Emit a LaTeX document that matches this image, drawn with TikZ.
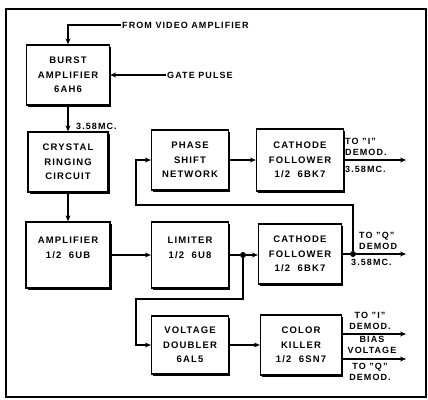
\documentclass[tikz,border=0pt]{standalone}
\usepackage{fontspec}
\setmainfont{Liberation Sans}[LetterSpace=12]
\usetikzlibrary{shapes.geometric, arrows, arrows.meta, shadows, positioning}
\tikzstyle{arrow} = [line width=1.3pt,->,>={Stealth[length=6pt,width=5pt]}]
\tikzstyle{line} = [line width=1.3pt]
\tikzstyle{block} = [draw, line width=1.3pt, fill=white, align=center,
    minimum width=80pt, minimum height=60pt,
    font=\bfseries\fontsize{9.5}{14.5}\selectfont,
    drop shadow={shadow xshift=1.5pt, shadow yshift=-1.5pt, opacity=1, fill=black}]
\tikzstyle{tag} = [font=\bfseries\fontsize{9}{11.5}\selectfont, inner sep=1pt]
\tikzstyle{dot} = [circle, fill=black, inner sep=0pt, minimum size=6pt]

\begin{document}
\begin{tikzpicture}[x=1pt, y=-1pt]
    \useasboundingbox (0,0) rectangle (428,399);
    \draw[line width=2.4pt] (6,9) rectangle (426,397);

    \node[block, minimum width=83pt] (burst) at (68,75) {BURST\\AMPLIFIER\\6AH6};
    \node[block] (crystal) at (68,162) {CRYSTAL\\RINGING\\CIRCUIT};
    \node[block, minimum width=84pt, minimum height=66pt] (amp) at (68,255) {AMPLIFIER\\1/2\ \ 6UB\\ \mbox{}};
    \node[block, minimum width=77pt] (phase) at (190,160) {PHASE\\SHIFT\\NETWORK};
    \node[block, minimum width=77pt, minimum height=66pt] (limiter) at (190,255) {LIMITER\\1/2\ \ 6U8\\ \mbox{}};
    \node[block, minimum width=77pt, minimum height=58pt] (doubler) at (190,345) {VOLTAGE\\DOUBLER\\6AL5};
    \node[block, minimum width=87pt, minimum height=62pt] (cath1) at (300,160) {CATHODE\\FOLLOWER\\1/2\ \ 6BK7};
    \node[block, minimum width=83pt] (cath2) at (300,254) {CATHODE\\FOLLOWER\\1/2\ \ 6BK7};
    \node[block, minimum width=81pt] (killer) at (301,345) {COLOR\\KILLER\\1/2\ \ 6SN7};

    \node[tag, anchor=west] (video) at (121,25) {FROM VIDEO AMPLIFIER};
    \node[tag, anchor=west] (gate) at (166,75) {GATE PULSE};
    \node[tag, anchor=west] (mc1) at (75,126) {3.58MC.};
    \draw[arrow] (video.west) -| (burst.north);
    \draw[arrow] (gate.west) -- (burst.east);
    \draw[arrow] (burst.south) -- (crystal.north);
    \draw[arrow] (crystal.south) -- (amp.north);
    \draw[arrow] (amp.east) -- (limiter.west);

    \node[dot] (ldot) at (243,255) {};
    \draw[line] (limiter.east) -- (ldot);
    \draw[arrow] (ldot) -- (cath2.west |- ldot);
    \coordinate (dbturn) at (136,299);
    \draw[arrow] (ldot) |- (dbturn) |- (doubler.west);
    \draw[arrow] (doubler.east) -- (killer.west |- doubler.east);

    \node[dot] (qdot) at (353,254) {};
    \coordinate (qout) at (406,254);
    \draw[line] (cath2.east) -- (qdot);
    \draw[arrow] (qdot) -- (qout);
    \coordinate (fbturn) at (136,205);
    \draw[arrow] (qdot) |- (fbturn) |- (phase.west);
    \draw[arrow] (phase.east) -- (cath1.west);

    \coordinate (iout) at (406,160);
    \draw[arrow] (cath1.east) -- (iout);
    \node[tag, anchor=south west, align=left] (itag) at (344,157) {TO "I"\\DEMOD.};
    \node[tag, anchor=north west] (imc) at (344,165) {3.58MC.};
    \node[tag, anchor=south west, align=left] (qtag) at (358,251) {TO "Q"\\DEMOD};
    \node[tag, anchor=north west] (qmc) at (350,258) {3.58MC.};

    \coordinate (kout1) at (406,334);
    \coordinate (kout2) at (406,359);
    \draw[arrow] (killer.east |- kout1) -- (kout1);
    \draw[arrow] (killer.east |- kout2) -- (kout2);
    \node[tag, anchor=south, align=center] (kitag) at (370,331) {TO "I"\\DEMOD.};
    \node[tag, align=center] (bias) at (372,345) {BIAS\\VOLTAGE};
    \node[tag, anchor=north, align=center] (kqtag) at (370,362) {TO "Q"\\DEMOD.};
\end{tikzpicture}
\end{document}
